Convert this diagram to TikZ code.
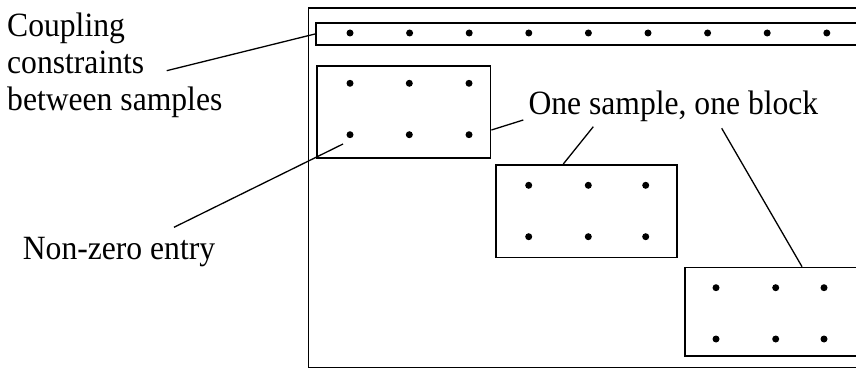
\documentclass[tikz,border=0pt]{standalone}
\usepackage{fontspec}
\setmainfont{Liberation Serif}[FakeStretch=0.93]
\begin{document}
\begin{tikzpicture}[x=1pt,y=-1pt,
  box/.style={draw=black,line width=1.7pt,rectangle,inner sep=0pt,anchor=north west},
  dotmark/.style={fill=black,circle,inner sep=0pt,minimum size=7pt},
  lbl/.style={anchor=base west,inner sep=0pt,font=\fontsize{34}{38}\selectfont},
  leader/.style={draw=black,line width=1.3pt}]
\useasboundingbox (0,0) rectangle (856,371);
\begin{scope}
\clip (0,0) rectangle (856,371);
% outer frame
\node[box,minimum width=552pt,minimum height=359.5pt] (outer) at (307.5,7) {};
% coupling strip
\node[box,minimum width=540.5pt,minimum height=22.3pt] (strip) at (315,22) {};
\foreach \i in {0,...,8} {
  \node[dotmark] (s\i) at ({350+59.6*\i},33) {};
}
% blocks
\node[box,minimum width=173.7pt,minimum height=92pt] (b1) at (316,65) {};
\node[box,minimum width=181pt,minimum height=92.7pt] (b2) at (495,164) {};
\node[box,minimum width=171.5pt,minimum height=88.3pt] (b3) at (684,266.7) {};
\foreach \x [count=\k] in {350,409.3,469} {
  \node[dotmark] (a1\k) at (\x,83.3) {};
  \node[dotmark] (a2\k) at (\x,134.7) {};
}
\foreach \x [count=\k] in {528.7,588.3,645.7} {
  \node[dotmark] (c1\k) at (\x,185.3) {};
  \node[dotmark] (c2\k) at (\x,236.7) {};
}
\foreach \x [count=\k] in {716,775.7,824} {
  \node[dotmark] (d1\k) at (\x,287.7) {};
  \node[dotmark] (d2\k) at (\x,339) {};
}
\end{scope}
% labels
\node[lbl] (t1) at (7,36.7) {Coupling};
\node[lbl] (t2) at (7,74) {constraints};
\node[lbl] (t3) at (7,110.5) {between samples};
\node[lbl] (t4) at (22.7,260) {Non-zero entry};
\node[lbl] (t5) at (528.3,115) {One sample, one block};
% leader end points
\coordinate (p1) at (166.7,70.7);
\coordinate (p2) at (b1.east |- 0,130);
\coordinate (p3) at (523.3,120);
\coordinate (p4) at (174,227.3);
\coordinate (p5) at (343,144);
\coordinate (p6) at (563.3,164);
\coordinate (p7) at (593.3,126.7);
\coordinate (p8) at (802,266.7);
\coordinate (p9) at (721.7,128.3);
% leaders
\draw[leader] (p1) -- (strip.west);
\draw[leader] (p2) -- (p3);
\draw[leader] (p4) -- (p5);
\draw[leader] (p6) -- (p7);
\draw[leader] (p8) -- (p9);
\end{tikzpicture}
\end{document}
